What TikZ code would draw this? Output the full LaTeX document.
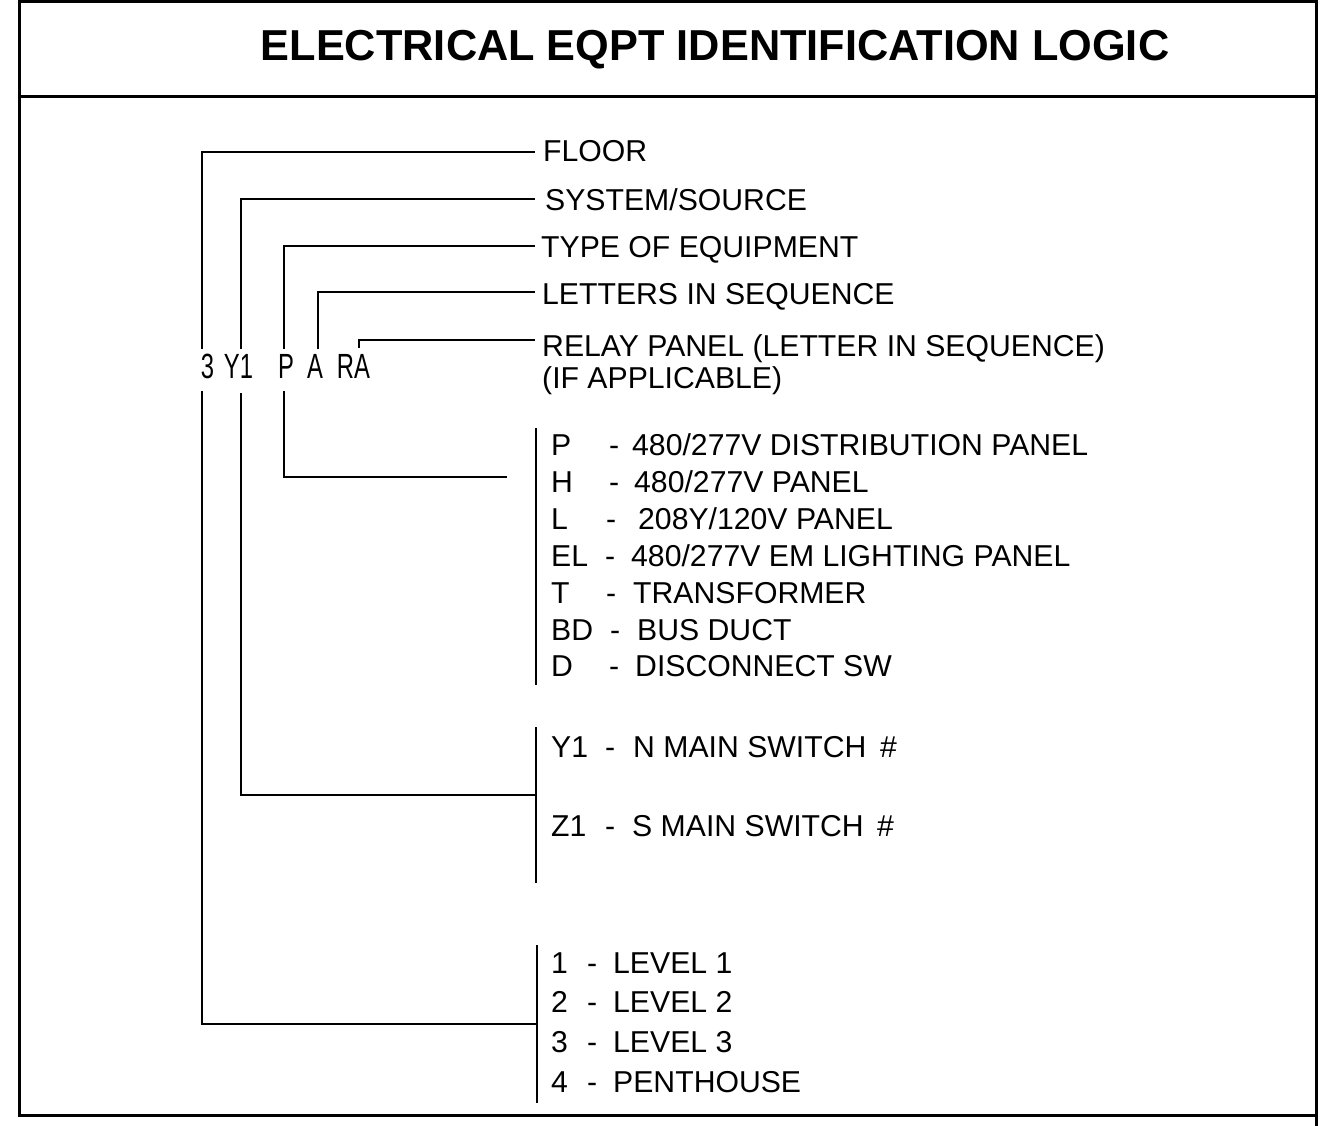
\documentclass[tikz,border=0pt]{standalone}
\usepackage{fontspec}
\setmainfont{Liberation Sans}
\newcommand\narrowtxt[1]{\scalebox{0.68}[1]{#1}}
\begin{document}
\begin{tikzpicture}[x=1pt,y=-1pt,
  ln/.style={line width=2.4pt},
  frame/.style={line width=3pt},
  lbl/.style={font=\fontsize{30.2}{32}\selectfont, anchor=base west, inner sep=0pt},
  code/.style={font=\fontsize{35}{35}\selectfont, anchor=base, inner sep=0pt},
  ttl/.style={font=\fontsize{43.3}{46}\selectfont\bfseries, anchor=base, inner sep=0pt}]
\useasboundingbox (0,0) rectangle (1333,1126);
% frame
\draw[frame] (19,2) rectangle (1316,1115);
\draw[frame] (19,97) -- (1316,97);
\draw[frame] (1316,0) -- (1316,1126);
\node[ttl] (title) at (715,61) {ELECTRICAL EQPT IDENTIFICATION LOGIC};

% code letters
\node[code] (k3) at (207.5,378) {\narrowtxt{3}};
\node[code] (kY) at (238.5,378) {\narrowtxt{Y1}};
\node[code] (kP) at (286,378) {\narrowtxt{P}};
\node[code] (kA) at (315,378) {\narrowtxt{A}};
\node[code] (kR) at (353.5,378) {\narrowtxt{RA}};

% upper labels
\node[lbl] (floor) at (543,162) {FLOOR};
\node[lbl] (sys) at (545,211) {SYSTEM/SOURCE};
\node[lbl] (type) at (541,258) {TYPE OF EQUIPMENT};
\node[lbl] (lets) at (542,304) {LETTERS IN SEQUENCE};
\node[lbl] (relay) at (542,356) {RELAY PANEL (LETTER IN SEQUENCE)};
\node[lbl] (relayb) at (542,388) {(IF APPLICABLE)};

% connector coordinates
\coordinate (t3) at (202,349);
\coordinate (tY) at (241,349);
\coordinate (tP) at (284,349);
\coordinate (tA) at (318,349);
\coordinate (tR) at (359,348);
\coordinate (eF) at (535,152);
\coordinate (eS) at (535,199);
\coordinate (eT) at (535,246);
\coordinate (eL) at (535,292);
\coordinate (eR) at (535,340);

\draw[ln] (t3) |- (eF);
\draw[ln] (tY) |- (eS);
\draw[ln] (tP) |- (eT);
\draw[ln] (tA) |- (eL);
\draw[ln] (tR) |- (eR);

% lower connectors
\coordinate (b3) at (202,391);
\coordinate (bY) at (241,393);
\coordinate (bP) at (284,391);
\coordinate (jP) at (507,477);
\coordinate (jY) at (536,795);
\coordinate (j3) at (537,1024);
\draw[ln] (bP) |- (jP);
\draw[ln] (bY) |- (jY);
\draw[ln] (b3) |- (j3);

% brackets
\coordinate (bkPa) at (536,428); \coordinate (bkPb) at (536,685);
\coordinate (bkYa) at (536,727); \coordinate (bkYb) at (536,883);
\coordinate (bk3a) at (537,945); \coordinate (bk3b) at (537,1103);
\draw[ln] (bkPa) -- (bkPb);
\draw[ln] (bkYa) -- (bkYb);
\draw[ln] (bk3a) -- (bk3b);

% equipment types
\node[lbl] (tpP) at (551,455) {P};
\node[lbl] (tpPd) at (609,455) {-};
\node[lbl] (tpPx) at (632,455) {480/277V DISTRIBUTION PANEL};
\node[lbl] (tpH) at (551,492) {H};
\node[lbl] (tpHd) at (609,492) {-};
\node[lbl] (tpHx) at (634,492) {480/277V PANEL};
\node[lbl] (tpL) at (551,529) {L};
\node[lbl] (tpLd) at (606,529) {-};
\node[lbl] (tpLx) at (638,529) {208Y/120V PANEL};
\node[lbl] (tpE) at (551,566) {EL};
\node[lbl] (tpEd) at (605,566) {-};
\node[lbl] (tpEx) at (631,566) {480/277V EM LIGHTING PANEL};
\node[lbl] (tpT) at (551,603) {T};
\node[lbl] (tpTd) at (606,603) {-};
\node[lbl] (tpTx) at (633,603) {TRANSFORMER};
\node[lbl] (tpB) at (551,640) {BD};
\node[lbl] (tpBd) at (610,640) {-};
\node[lbl] (tpBx) at (637,640) {BUS DUCT};
\node[lbl] (tpD) at (551,676) {D};
\node[lbl] (tpDd) at (609,676) {-};
\node[lbl] (tpDx) at (635,676) {DISCONNECT SW};

% system / source
\node[lbl] (sY) at (551,757) {Y1};
\node[lbl] (sYd) at (605,757) {-};
\node[lbl] (sYx) at (633,757) {N MAIN SWITCH};
\node[lbl] (sYh) at (880,757) {\#};
\node[lbl] (sZ) at (551,836) {Z1};
\node[lbl] (sZd) at (605,836) {-};
\node[lbl] (sZx) at (632,836) {S MAIN SWITCH};
\node[lbl] (sZh) at (877,836) {\#};

% floors
\node[lbl] (f1) at (551,973) {1};
\node[lbl] (f1d) at (587,973) {-};
\node[lbl] (f1x) at (613,973) {LEVEL 1};
\node[lbl] (f2) at (551,1012) {2};
\node[lbl] (f2d) at (587,1012) {-};
\node[lbl] (f2x) at (613,1012) {LEVEL 2};
\node[lbl] (f3) at (551,1052) {3};
\node[lbl] (f3d) at (587,1052) {-};
\node[lbl] (f3x) at (613,1052) {LEVEL 3};
\node[lbl] (f4) at (551,1092) {4};
\node[lbl] (f4d) at (587,1092) {-};
\node[lbl] (f4x) at (613,1092) {PENTHOUSE};
\end{tikzpicture}
\end{document}
